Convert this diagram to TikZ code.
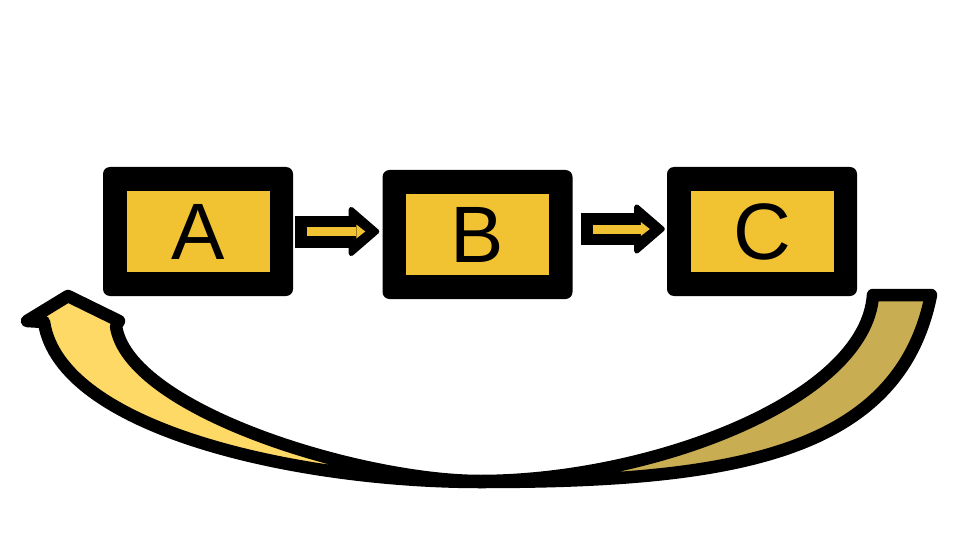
\documentclass[tikz,border=0pt]{standalone}
\usepackage{fontspec}
\setmainfont{Liberation Sans}
\usetikzlibrary{arrows.meta,calc}
\definecolor{cardyellow}{HTML}{F1C232}
\definecolor{lightgold}{HTML}{FFD966}
\definecolor{darkgold}{HTML}{C9AD52}
\begin{document}
\begin{tikzpicture}[x=1pt,y=-1pt,
  frame/.style={fill=black, rounded corners=7pt, minimum width=190pt, minimum height=129pt, inner sep=0pt},
  card/.style={fill=cardyellow, minimum width=143pt, minimum height=81pt, inner sep=0pt, font=\fontsize{80}{96}\selectfont},
  blackarr/.style={draw=black, line width=32pt, -{Triangle[length=32pt,width=54pt,line width=5pt,round]}},
  yellowarr/.style={draw=cardyellow, line width=9pt, -{Triangle[length=9pt,width=14pt,line width=0pt]}},
  band/.style={draw=black, line width=12.5pt, line join=round},
]
\useasboundingbox (0,0) rectangle (960,540);

% boxes
\node[frame] (Af) at (198,231.5) {};
\node[card] (A) at (Af.center) {A};
\node[frame] (Bf) at (477.5,234.5) {};
\node[card] (B) at (Bf.center) {B};
\node[frame] (Cf) at (762,231.5) {};
\node[card] (C) at (Cf.center) {C};

% straight block arrows
\draw[blackarr, shorten <=2pt, shorten >=3pt] (Af.east) -- (Af.east -| Bf.west);
\draw[yellowarr, shorten <=13.5pt, shorten >=17pt] (Af.east) -- (Af.east -| Bf.west);
\coordinate (bcs) at ($(Cf.west -| Bf.east)+(0,-2.5)$);
\coordinate (bce) at ($(Cf.west)+(0,-2.5)$);
\draw[blackarr, shorten <=8pt, shorten >=2pt] (bcs) -- (bce);
\draw[yellowarr, shorten <=20pt, shorten >=17pt] (bcs) -- (bce);

% curved return arrow: back (right) part
\filldraw[band, fill=darkgold] (480,482) .. controls (730,482) and (899,455) .. (931,295)
  -- (873,295) .. controls (866,400) and (650,481) .. (480,481) -- cycle;
% front (left) part with head
\filldraw[band, fill=lightgold] (480,482) .. controls (300,482) and (60,430) .. (44,322)
  -- (27,321) -- (68,296) -- (119,321) -- (116,326)
  .. controls (128,410) and (360,481) .. (480,481) -- cycle;
\end{tikzpicture}
\end{document}
